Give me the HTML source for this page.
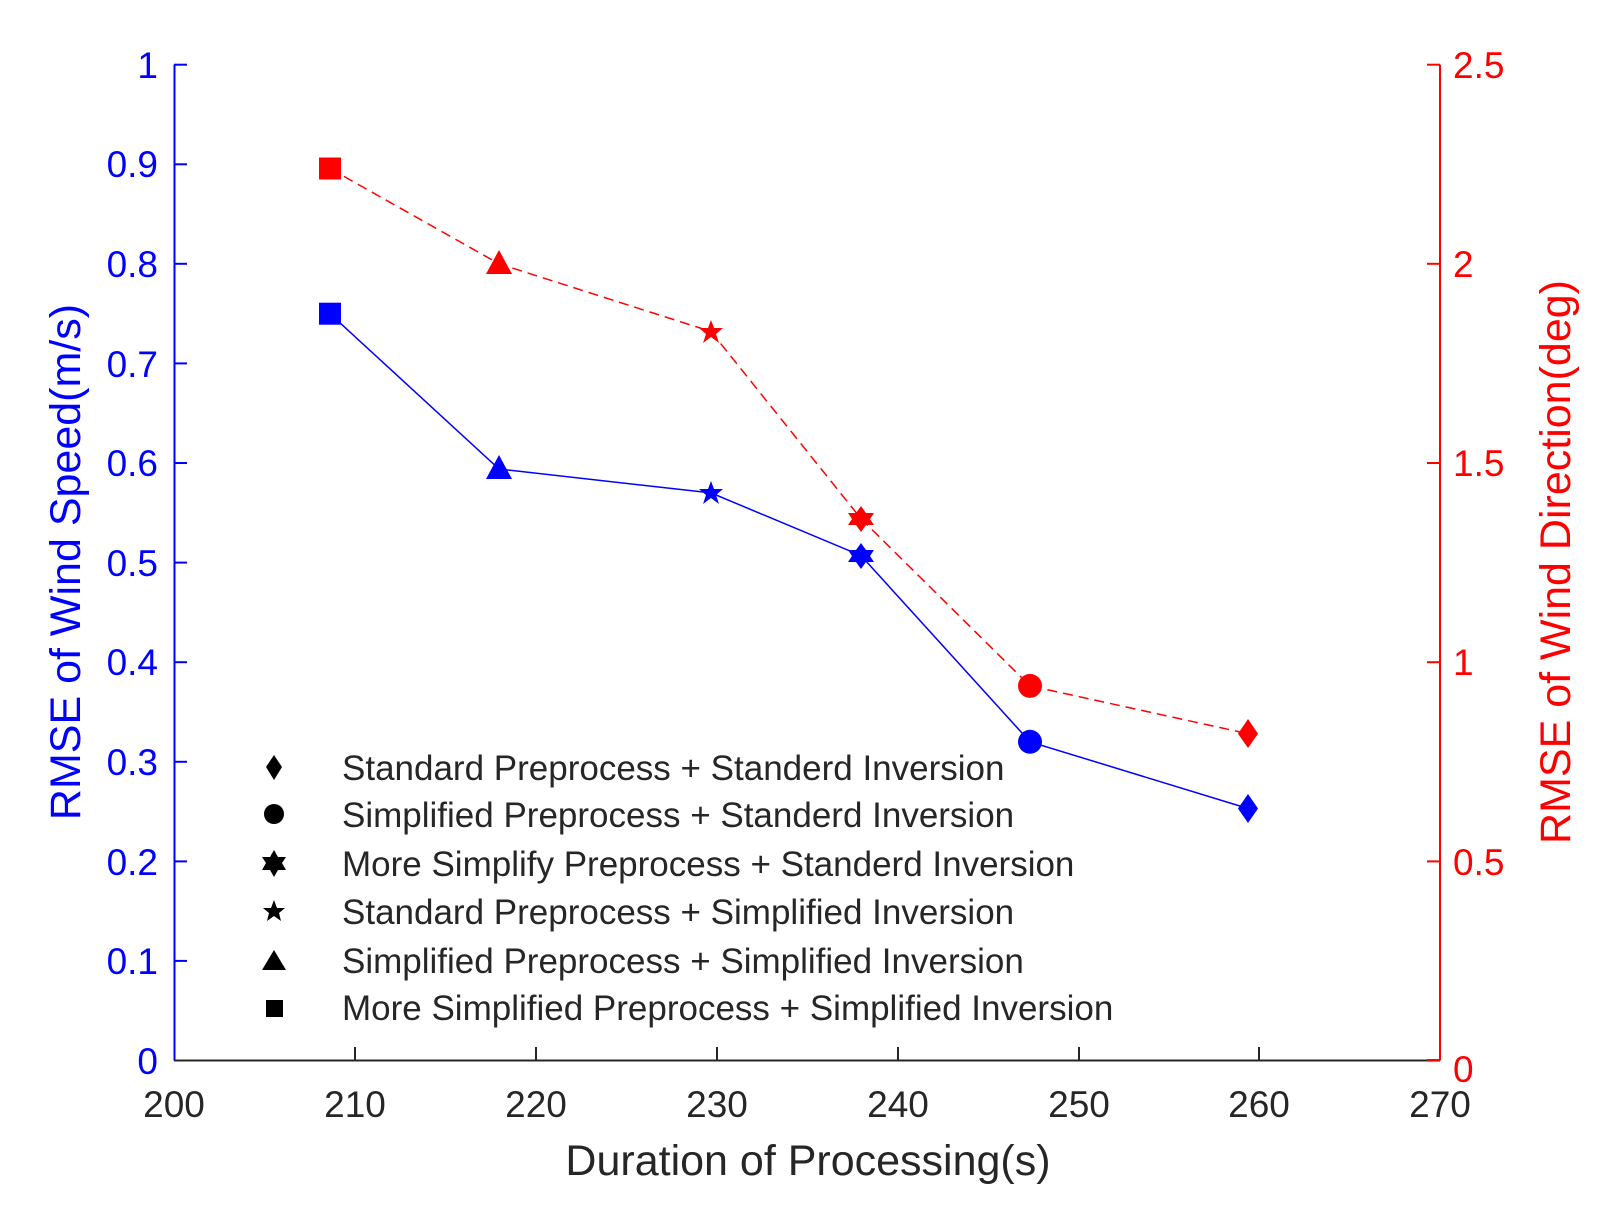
<!DOCTYPE html>
<html><head><style>body{margin:0;background:#fff}</style></head><body>
<svg width="1611" height="1222" xmlns="http://www.w3.org/2000/svg" font-family="Liberation Sans, sans-serif">
<rect width="1611" height="1222" fill="#fff"/>
<line x1="174.5" y1="64.7" x2="174.5" y2="1060.5" stroke="#0000ff" stroke-width="2"/>
<line x1="1440" y1="64.7" x2="1440" y2="1060.5" stroke="#ff0000" stroke-width="2"/>
<line x1="174" y1="1060.5" x2="1440" y2="1060.5" stroke="#262626" stroke-width="2"/>
<g stroke="#0000ff" stroke-width="2">
<line x1="174" x2="187" y1="64.7" y2="64.7"/><line x1="174" x2="187" y1="164.3" y2="164.3"/><line x1="174" x2="187" y1="263.8" y2="263.8"/><line x1="174" x2="187" y1="363.4" y2="363.4"/><line x1="174" x2="187" y1="463" y2="463"/><line x1="174" x2="187" y1="562.6" y2="562.6"/><line x1="174" x2="187" y1="662.2" y2="662.2"/><line x1="174" x2="187" y1="761.8" y2="761.8"/><line x1="174" x2="187" y1="861.4" y2="861.4"/><line x1="174" x2="187" y1="960.9" y2="960.9"/>
</g>
<g stroke="#ff0000" stroke-width="2">
<line x1="1427" x2="1440" y1="64.7" y2="64.7"/><line x1="1427" x2="1440" y1="263.8" y2="263.8"/><line x1="1427" x2="1440" y1="463" y2="463"/><line x1="1427" x2="1440" y1="662.2" y2="662.2"/><line x1="1427" x2="1440" y1="861.4" y2="861.4"/><line x1="1427" x2="1440" y1="1060" y2="1060"/>
</g>
<g stroke="#262626" stroke-width="2">
<line x1="355" x2="355" y1="1060" y2="1047"/><line x1="536" x2="536" y1="1060" y2="1047"/><line x1="717" x2="717" y1="1060" y2="1047"/><line x1="898" x2="898" y1="1060" y2="1047"/><line x1="1079" x2="1079" y1="1060" y2="1047"/><line x1="1259" x2="1259" y1="1060" y2="1047"/>
</g>
<g fill="#0000ff" font-size="37" text-anchor="end">
<text x="158" y="78">1</text><text x="158" y="177">0.9</text><text x="158" y="277">0.8</text><text x="158" y="377">0.7</text><text x="158" y="476">0.6</text><text x="158" y="576">0.5</text><text x="158" y="675">0.4</text><text x="158" y="775">0.3</text><text x="158" y="875">0.2</text><text x="158" y="974">0.1</text><text x="158" y="1074">0</text>
</g>
<g fill="#ff0000" font-size="37">
<text x="1453" y="78">2.5</text><text x="1453" y="277">2</text><text x="1453" y="476">1.5</text><text x="1453" y="675">1</text><text x="1453" y="875">0.5</text><text x="1453" y="1082">0</text>
</g>
<g fill="#262626" font-size="37" text-anchor="middle">
<text x="174" y="1117">200</text><text x="355" y="1117">210</text><text x="536" y="1117">220</text><text x="717" y="1117">230</text><text x="898" y="1117">240</text><text x="1079" y="1117">250</text><text x="1259" y="1117">260</text><text x="1440" y="1117">270</text>
</g>
<text x="808" y="1175" font-size="43" fill="#262626" text-anchor="middle">Duration of Processing(s)</text>
<text transform="translate(80,562) rotate(-90)" font-size="43" fill="#0000ff" text-anchor="middle">RMSE of Wind Speed(m/s)</text>
<text transform="translate(1570,562) rotate(-90)" font-size="43" fill="#ff0000" text-anchor="middle">RMSE of Wind Direction(deg)</text>
<polyline fill="none" stroke="#0000ff" stroke-width="1.5" points="330,313.7 499,469 711,492.9 861,555.6 1030,741.8 1248,808.5"/>
<polyline fill="none" stroke="#ff0000" stroke-width="1.5" stroke-dasharray="10,6" points="330,168.5 499,263.8 711,331.5 861,518.7 1030,685.9 1248,733.7"/>
<g fill="#0000ff">
<rect x="319" y="302.7" width="22" height="22"/>
<polygon points="499,455 512,479 486,479"/>
<polygon points="711,481 714,489 723,489 716,495 719,504 711,498 703,504 706,495 699,489 708,489"/>
<polygon points="861,543 866,550 874,550 870,556 874,562 866,562 861,569 856,562 848,562 852,556 848,550 856,550"/>
<circle cx="1030" cy="741.8" r="12"/>
<polygon points="1248,794 1258,808.5 1248,823 1238,808.5"/>
</g>
<g fill="#ff0000">
<rect x="319" y="157.5" width="22" height="22"/>
<polygon points="499,250 512,274 486,274"/>
<polygon points="711,320 714,328 723,328 716,334 719,343 711,337 703,343 706,334 699,328 708,328"/>
<polygon points="861,506 866,513 874,513 870,519 874,525 866,525 861,532 856,525 848,525 852,519 848,513 856,513"/>
<circle cx="1030" cy="685.9" r="12"/>
<polygon points="1248,719 1258,733.7 1248,748 1238,733.7"/>
</g>
<g fill="#000">
<polygon points="274,755 282,767 274,780 266,767"/>
<circle cx="274" cy="814" r="10"/>
<polygon points="274,850 278,857 286,857 282,863 286,870 278,870 274,877 270,870 262,870 266,863 262,857 270,857"/>
<polygon points="274,900 277,908 285,908 279,913 281,921 274,916 267,921 269,913 263,908 271,908"/>
<polygon points="274,950 286,970 262,970"/>
<rect x="266" y="1000" width="17" height="17"/>
</g>
<g font-size="35" fill="#262626">
<text x="342" y="780">Standard Preprocess + Standerd Inversion</text>
<text x="342" y="827">Simplified Preprocess + Standerd Inversion</text>
<text x="342" y="876">More Simplify Preprocess + Standerd Inversion</text>
<text x="342" y="924">Standard Preprocess + Simplified Inversion</text>
<text x="342" y="973">Simplified Preprocess + Simplified Inversion</text>
<text x="342" y="1020">More Simplified Preprocess + Simplified Inversion</text>
</g>
</svg>
</body></html>
